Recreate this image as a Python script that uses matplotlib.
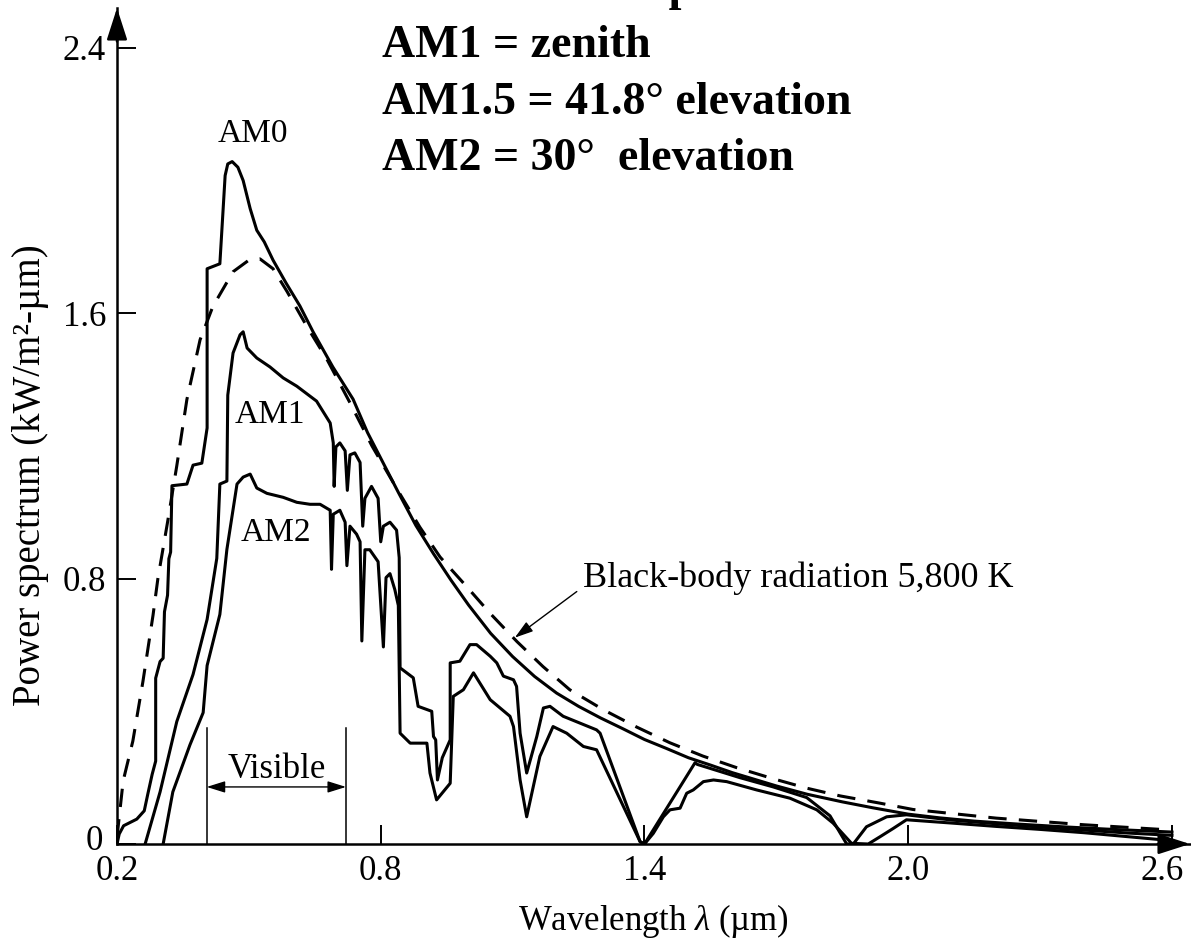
import numpy as np
import matplotlib.pyplot as plt
import matplotlib.transforms as mtransforms

plt.rcParams['font.family'] = 'Liberation Serif'
plt.rcParams['mathtext.fontset'] = 'custom'
plt.rcParams['mathtext.rm'] = 'Liberation Serif'
plt.rcParams['mathtext.it'] = 'Liberation Serif:italic'

# ---- spectra (wavelength in um, power in kW/m^2-um) ----
am0_wl = [0.200, 0.205, 0.215, 0.245, 0.262, 0.270, 0.280, 0.288, 0.288, 0.298,
          0.305, 0.308, 0.315, 0.318, 0.322, 0.325, 0.359, 0.373, 0.393, 0.405,
          0.405, 0.434, 0.446, 0.452, 0.462, 0.475, 0.487, 0.503, 0.518, 0.535,
          0.555, 0.585, 0.616, 0.646, 0.691, 0.737, 0.770, 0.840, 0.880, 0.920,
          0.960, 1.000, 1.050, 1.100, 1.150, 1.200, 1.250, 1.300, 1.350, 1.400,
          1.450, 1.500, 1.550, 1.600, 1.650, 1.700, 1.770, 1.850, 1.920, 2.000,
          2.070, 2.150, 2.250, 2.350, 2.450, 2.550, 2.600]
am0_pw = [0.000, 0.030, 0.055, 0.075, 0.100, 0.150, 0.210, 0.250, 0.500, 0.550,
          0.560, 0.700, 0.750, 0.860, 0.880, 1.080, 1.085, 1.142, 1.148, 1.254,
          1.734, 1.749, 2.015, 2.050, 2.057, 2.040, 2.000, 1.915, 1.850, 1.815,
          1.760, 1.690, 1.622, 1.544, 1.438, 1.341, 1.240, 1.060, 0.960, 0.875,
          0.795, 0.720, 0.635, 0.565, 0.505, 0.455, 0.415, 0.380, 0.348, 0.315,
          0.288, 0.260, 0.238, 0.215, 0.195, 0.175, 0.150, 0.127, 0.109, 0.090,
          0.079, 0.069, 0.060, 0.052, 0.045, 0.039, 0.036]

am1_wl = [0.264, 0.298, 0.336, 0.373, 0.405, 0.427, 0.434, 0.450, 0.452, 0.464,
          0.480, 0.487, 0.496, 0.518, 0.548, 0.578, 0.609, 0.654, 0.685, 0.692,
          0.694, 0.698, 0.707, 0.719, 0.724, 0.730, 0.741, 0.753, 0.759, 0.764,
          0.779, 0.794, 0.800, 0.806, 0.821, 0.836, 0.842, 0.844, 0.874, 0.885,
          0.916, 0.920, 0.925, 0.929, 0.940, 0.958, 0.958, 0.980, 1.003, 1.018,
          1.049, 1.064, 1.079, 1.102, 1.109, 1.117, 1.132, 1.155, 1.170, 1.185,
          1.215, 1.291, 1.299, 1.390, 1.400, 1.515, 1.520, 1.617, 1.693, 1.769,
          1.822, 1.860, 1.875, 1.905, 1.951, 1.996, 2.100, 2.200, 2.300, 2.400,
          2.500, 2.600]
am1_pw = [0.000, 0.157, 0.369, 0.511, 0.677, 0.861, 1.085, 1.094, 1.353, 1.480,
          1.535, 1.544, 1.495, 1.465, 1.438, 1.405, 1.380, 1.335, 1.269, 1.209,
          1.078, 1.197, 1.209, 1.185, 1.066, 1.173, 1.179, 1.150, 0.958, 1.042,
          1.078, 1.042, 0.911, 0.958, 0.970, 0.946, 0.863, 0.531, 0.501, 0.415,
          0.400, 0.324, 0.314, 0.193, 0.260, 0.314, 0.546, 0.551, 0.601, 0.601,
          0.566, 0.546, 0.506, 0.495, 0.475, 0.334, 0.214, 0.324, 0.410, 0.415,
          0.385, 0.344, 0.334, 0.007, 0.000, 0.245, 0.240, 0.200, 0.172, 0.140,
          0.085, 0.000, 0.000, 0.052, 0.082, 0.088, 0.072, 0.061, 0.051, 0.042,
          0.033, 0.026]

am2_wl = [0.305, 0.327, 0.366, 0.396, 0.405, 0.434, 0.450, 0.473, 0.487, 0.503,
          0.518, 0.541, 0.578, 0.609, 0.639, 0.662, 0.685, 0.688, 0.692, 0.707,
          0.719, 0.723, 0.730, 0.745, 0.753, 0.757, 0.764, 0.775, 0.794, 0.806,
          0.812, 0.821, 0.832, 0.840, 0.844, 0.867, 0.905, 0.912, 0.927, 0.958,
          0.965, 0.988, 1.011, 1.049, 1.094, 1.102, 1.117, 1.132, 1.162, 1.192,
          1.223, 1.261, 1.291, 1.390, 1.400, 1.420, 1.443, 1.458, 1.481, 1.496,
          1.511, 1.534, 1.557, 1.587, 1.655, 1.731, 1.792, 1.829, 1.871, 1.909,
          1.936, 1.966, 1.996, 2.100, 2.200, 2.300, 2.400, 2.500, 2.600]
am2_pw = [0.000, 0.157, 0.299, 0.396, 0.538, 0.692, 0.888, 1.085, 1.106, 1.115,
          1.073, 1.057, 1.045, 1.030, 1.024, 1.024, 1.006, 0.828, 0.994, 1.006,
          0.970, 0.839, 0.958, 0.934, 0.911, 0.612, 0.887, 0.887, 0.851, 0.594,
          0.803, 0.815, 0.767, 0.719, 0.334, 0.304, 0.304, 0.214, 0.133, 0.183,
          0.445, 0.465, 0.516, 0.435, 0.385, 0.354, 0.193, 0.082, 0.264, 0.354,
          0.334, 0.294, 0.284, 0.007, 0.000, 0.032, 0.082, 0.103, 0.108, 0.153,
          0.163, 0.188, 0.193, 0.188, 0.163, 0.138, 0.103, 0.063, 0.002, 0.000,
          0.022, 0.047, 0.073, 0.063, 0.053, 0.044, 0.034, 0.022, 0.010]

bb_wl = [0.200, 0.214, 0.236, 0.259, 0.282, 0.293, 0.315, 0.336, 0.359, 0.389,
         0.418, 0.464, 0.500, 0.525, 0.555, 0.587, 0.632, 0.678, 0.730, 0.780,
         0.837, 0.889, 0.935, 0.996, 1.049, 1.110, 1.169, 1.230, 1.306, 1.383,
         1.458, 1.533, 1.610, 1.692, 1.770, 1.845, 1.936, 2.011, 2.200, 2.400,
         2.600]
bb_pw = [0.020, 0.190, 0.310, 0.490, 0.690, 0.800, 0.970, 1.140, 1.340, 1.520,
         1.620, 1.725, 1.760, 1.764, 1.734, 1.665, 1.560, 1.460, 1.330, 1.200,
         1.070, 0.955, 0.865, 0.775, 0.695, 0.610, 0.535, 0.465, 0.405, 0.352,
         0.305, 0.265, 0.230, 0.197, 0.168, 0.145, 0.123, 0.104, 0.078, 0.058,
         0.042]

x_ticks = [0.2, 0.8, 1.4, 2.0, 2.6]
x_ticklabels = ['0.2', '0.8', '1.4', '2.0', '2.6']
y_ticks = [0, 0.8, 1.6, 2.4]
y_ticklabels = ['0', '0.8', '1.6', '2.4']

visible_band = [0.404, 0.721]

W, H = 1191, 950
fig = plt.figure(figsize=(W / 100, H / 100), dpi=100)
ax = fig.add_axes([117 / W, 106 / H, 1073 / W, 836 / H])

lw = 2.2
ax.plot(am0_wl, am0_pw, color='k', lw=lw, solid_joinstyle='round')
ax.plot(am1_wl, am1_pw, color='k', lw=lw, solid_joinstyle='round')
ax.plot(am2_wl, am2_pw, color='k', lw=lw, solid_joinstyle='round')
ax.plot(bb_wl, bb_pw, color='k', lw=lw, dashes=(6, 4))

ax.set_xlim(0.2, 2.641)
ax.set_ylim(0, 2.52)

# axes: only left and bottom, with arrow heads
for s in ['top', 'right']:
    ax.spines[s].set_visible(False)
for s in ['left', 'bottom']:
    ax.spines[s].set_linewidth(1.8)
ax.annotate('', xy=(1.0, 0), xytext=(0.97, 0), xycoords='axes fraction',
            arrowprops=dict(arrowstyle='-|>,head_length=1.4,head_width=0.45',
                            color='k', lw=1.8, mutation_scale=14,
                            shrinkA=0, shrinkB=0))
ax.annotate('', xy=(0, 1.0), xytext=(0, 0.96), xycoords='axes fraction',
            arrowprops=dict(arrowstyle='-|>,head_length=1.4,head_width=0.45',
                            color='k', lw=1.8, mutation_scale=14,
                            shrinkA=0, shrinkB=0))

ax.set_xticks(x_ticks)
ax.set_xticklabels(x_ticklabels)
ax.set_yticks(y_ticks)
ax.set_yticklabels(y_ticklabels)
ax.tick_params(direction='in', length=14, width=1.4, labelsize=25)
ax.tick_params(axis='x', pad=8)
ax.tick_params(axis='y', pad=8)

# last x label sits against the right edge
last = ax.get_xticklabels()[-1]
last.set_transform(last.get_transform() +
                   mtransforms.ScaledTranslation(-10 / 100, 0, fig.dpi_scale_trans))
# lift the y "0" a little off the x "0.2"
zero = ax.get_yticklabels()[0]
zero.set_transform(zero.get_transform() +
                   mtransforms.ScaledTranslation(-3 / 100, 6 / 100, fig.dpi_scale_trans))

ax.set_xlabel('Wavelength $\\mathit{\\lambda}$ (µm)', fontsize=25, labelpad=10)
fig.text(31 / W, 1 - 475 / H, 'Power spectrum (kW/m²-µm)', fontsize=28,
         rotation=90, ha='center', va='center')

# curve labels
ax.text(0.509, 2.14, 'AM0', fontsize=24, ha='center', va='center')
ax.text(0.548, 1.293, 'AM1', fontsize=24, ha='center', va='center')
ax.text(0.562, 0.937, 'AM2', fontsize=24, ha='center', va='center')

# visible band
for xv in visible_band:
    ax.plot([xv, xv], [0, 0.35], color='k', lw=1.1)
ax.annotate('', xy=(visible_band[0], 0.172), xytext=(visible_band[1], 0.172),
            arrowprops=dict(arrowstyle='<|-|>,head_length=0.8,head_width=0.25',
                            color='k', lw=1.0, mutation_scale=14,
                            shrinkA=0, shrinkB=0))
ax.text(np.mean(visible_band), 0.2, 'Visible', fontsize=25, ha='center', va='baseline')

# black-body pointer
ax.annotate('', xy=(1.105, 0.622), xytext=(1.246, 0.761),
            arrowprops=dict(arrowstyle='-|>,head_length=0.8,head_width=0.25',
                            color='k', lw=1.0, mutation_scale=14,
                            shrinkA=0, shrinkB=0))
ax.text(1.26, 0.80, 'Black-body radiation 5,800 K', fontsize=26, ha='left', va='center')

# air mass notes
notes = ['AM1 = zenith', 'AM1.5 = 41.8° elevation', 'AM2 = 30°  elevation']
for i, line in enumerate(notes):
    fig.text(382 / W, 1 - (57 + 56.5 * i) / H, line, fontsize=33,
             fontweight='bold', va='baseline', ha='left')
fig.text(528 / W, 1.0, 'Solar Spectrum', fontsize=33, fontweight='bold',
         va='baseline', ha='left')

fig.savefig('out.png', dpi=100)
